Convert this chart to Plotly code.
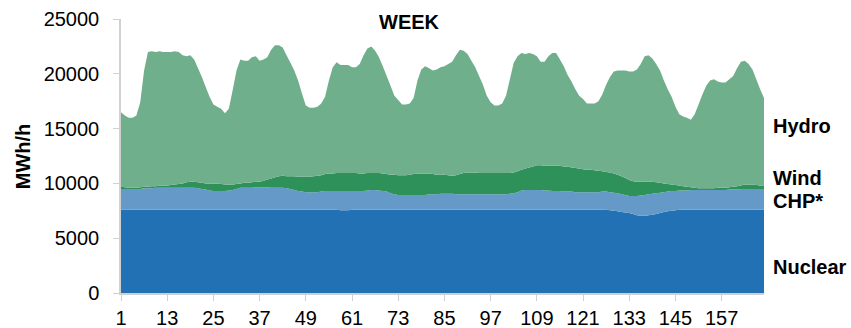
import plotly.graph_objects as go

hours = list(range(1, 169))
tick_vals = [1, 13, 25, 37, 49, 61, 73, 85, 97, 109, 121, 133, 145, 157]
y_ticks = [0, 5000, 10000, 15000, 20000, 25000]
y_tick_text = ["0", "5000", "10000", "15000", "20000", "25000"]

nuclear = [
    7600, 7600, 7600, 7600, 7600, 7600, 7600, 7600, 7600, 7600, 7600, 7600,
    7600, 7600, 7600, 7600, 7600, 7600, 7600, 7600, 7600, 7600, 7600, 7600,
    7600, 7600, 7600, 7600, 7600, 7600, 7600, 7600, 7600, 7600, 7600, 7600,
    7600, 7600, 7600, 7600, 7600, 7600, 7600, 7600, 7600, 7600, 7600, 7600,
    7600, 7600, 7600, 7600, 7600, 7600, 7600, 7600, 7600, 7550, 7550, 7550,
    7600, 7600, 7600, 7600, 7600, 7600, 7600, 7600, 7600, 7600, 7600, 7600,
    7600, 7600, 7600, 7600, 7600, 7600, 7600, 7600, 7600, 7600, 7600, 7600,
    7600, 7600, 7600, 7600, 7600, 7600, 7600, 7600, 7600, 7600, 7600, 7600,
    7600, 7600, 7600, 7600, 7600, 7600, 7600, 7600, 7600, 7600, 7600, 7600,
    7600, 7600, 7600, 7600, 7600, 7600, 7600, 7600, 7600, 7600, 7600, 7600,
    7600, 7600, 7600, 7600, 7600, 7600, 7600, 7550, 7500, 7450, 7400, 7350,
    7300, 7200, 7100, 7050, 7050, 7100, 7150, 7200, 7300, 7400, 7450, 7500,
    7550, 7600, 7600, 7600, 7600, 7600, 7600, 7600, 7600, 7600, 7600, 7600,
    7600, 7600, 7600, 7600, 7600, 7600, 7600, 7600, 7600, 7600, 7600, 7600,
]

chp = [
    1900, 1900, 1900, 1900, 1900, 1900, 1950, 1950, 1950, 2000, 2000, 2000,
    2000, 2000, 2000, 2000, 2000, 2000, 2000, 2000, 1950, 1900, 1850, 1750,
    1700, 1700, 1700, 1700, 1750, 1800, 1900, 2000, 2000, 2000, 2000, 2050,
    2050, 2050, 2050, 2000, 2000, 2000, 2000, 1950, 1900, 1800, 1700, 1650,
    1600, 1600, 1600, 1600, 1650, 1700, 1700, 1700, 1700, 1750, 1750, 1750,
    1700, 1700, 1700, 1700, 1750, 1800, 1800, 1750, 1700, 1650, 1500, 1400,
    1350, 1350, 1350, 1350, 1350, 1350, 1350, 1350, 1400, 1400, 1400, 1450,
    1450, 1450, 1450, 1400, 1400, 1400, 1400, 1400, 1400, 1400, 1400, 1400,
    1400, 1400, 1400, 1400, 1400, 1450, 1500, 1600, 1750, 1800, 1800, 1800,
    1800, 1800, 1750, 1750, 1700, 1700, 1700, 1650, 1650, 1650, 1600, 1600,
    1600, 1600, 1600, 1600, 1600, 1650, 1650, 1650, 1650, 1650, 1600, 1600,
    1550, 1650, 1750, 1850, 1900, 1900, 1900, 1900, 1850, 1800, 1800, 1800,
    1750, 1750, 1750, 1750, 1800, 1800, 1800, 1800, 1800, 1800, 1800, 1800,
    1800, 1800, 1850, 1850, 1850, 1900, 1900, 1900, 1900, 1900, 1900, 1900,
]

wind = [
    200, 150, 100, 100, 100, 150, 150, 150, 200, 150, 200, 200,
    200, 250, 300, 350, 400, 500, 550, 550, 550, 550, 550, 650,
    700, 700, 650, 600, 550, 500, 450, 400, 450, 450, 500, 500,
    500, 600, 700, 850, 950, 1050, 1100, 1100, 1150, 1250, 1300, 1350,
    1400, 1400, 1450, 1500, 1500, 1550, 1600, 1600, 1650, 1650, 1650, 1650,
    1650, 1650, 1600, 1600, 1600, 1550, 1550, 1600, 1600, 1600, 1700, 1800,
    1800, 1800, 1800, 1850, 1900, 1950, 1950, 1950, 1900, 1850, 1800, 1750,
    1750, 1700, 1650, 1750, 1850, 1950, 2000, 2000, 2000, 1950, 1950, 1950,
    1950, 1950, 1950, 1950, 1950, 1900, 1900, 1900, 1900, 1950, 2050, 2150,
    2250, 2250, 2250, 2250, 2300, 2300, 2300, 2300, 2300, 2200, 2200, 2150,
    2100, 2050, 2050, 2000, 1950, 1850, 1800, 1800, 1750, 1700, 1650, 1550,
    1450, 1350, 1300, 1250, 1200, 1150, 1100, 1000, 900, 800, 700, 600,
    550, 450, 400, 350, 250, 200, 150, 150, 150, 150, 150, 200,
    200, 200, 200, 250, 300, 300, 400, 400, 400, 350, 300, 250,
]

hydro = [
    6800, 6550, 6400, 6400, 6600, 7750, 10600, 12300, 12300, 12250, 12250, 12200,
    12200, 12150, 12150, 12050, 11700, 11500, 11550, 11150, 10400, 9650, 8800, 7900,
    7200, 7000, 6850, 6500, 6900, 8600, 10350, 11300, 11150, 11150, 11400, 11450,
    11050, 11050, 11150, 11750, 12050, 11950, 11700, 11050, 10350, 9650, 8800, 7600,
    6500, 6300, 6250, 6300, 6550, 7050, 8500, 9700, 10100, 9850, 9850, 9850,
    9650, 9650, 10000, 10800, 11350, 11550, 11150, 10550, 9800, 8950, 8100, 7200,
    6850, 6450, 6450, 6500, 6950, 8500, 9500, 9800, 9600, 9450, 9600, 9800,
    9900, 10150, 10400, 10950, 11350, 11150, 10800, 10200, 9600, 8850, 8050, 7050,
    6450, 6150, 6150, 6350, 7050, 8550, 10000, 10500, 10650, 10450, 10450, 10250,
    9950, 9450, 9500, 10000, 10300, 10300, 9700, 9150, 8350, 7850, 7200, 6650,
    6400, 6050, 6050, 6100, 6350, 7000, 7950, 8700, 9300, 9500, 9650, 9800,
    9900, 10000, 10250, 10750, 11450, 11550, 11250, 10800, 10250, 9400, 8650, 8000,
    7150, 6500, 6350, 6300, 6150, 6700, 7650, 8550, 9350, 9850, 9950, 9700,
    9600, 9600, 9850, 10100, 10750, 11300, 11300, 11000, 10500, 9650, 8800, 8050,
]

series = [
    ("Nuclear", nuclear, "#2271B5"),
    ("CHP*", chp, "#6499C8"),
    ("Wind", wind, "#2E915A"),
    ("Hydro", hydro, "#6FAF8C"),
]

FONT = "Liberation Sans, Arial, sans-serif"

fig = go.Figure()
for name, vals, color in series:
    fig.add_trace(go.Scatter(
        x=hours, y=vals, name=name, mode="none",
        stackgroup="one", fillcolor=color, line=dict(width=0),
        showlegend=False,
    ))

labels = [("Hydro", 0.610), ("Wind", 0.420), ("CHP*", 0.336), ("Nuclear", 0.096)]
annotations = []
for text, yp in labels:
    annotations.append(dict(
        text="<b>%s</b>" % text, xref="paper", yref="paper",
        x=1.0115, y=yp, xanchor="left", yanchor="middle", showarrow=False,
        font=dict(family=FONT, size=20, color="#000000"),
    ))
annotations.append(dict(
    text="<b>WEEK</b>", xref="paper", yref="paper", x=0.449, y=0.99,
    xanchor="center", yanchor="middle", showarrow=False,
    font=dict(family=FONT, size=20, color="#000000"),
))
annotations.append(dict(
    text="<b>MWh/h</b>", xref="paper", yref="paper", x=-0.152, y=0.5,
    xanchor="center", yanchor="middle", showarrow=False, textangle=-90,
    font=dict(family=FONT, size=20, color="#000000"),
))

fig.update_layout(
    width=851, height=328,
    margin=dict(l=121, r=87, t=19, b=35),
    paper_bgcolor="white", plot_bgcolor="white",
    font=dict(family=FONT, size=20, color="#000000"),
    annotations=annotations,
)
fig.update_xaxes(
    range=[1, 168], tickmode="array", tickvals=tick_vals, automargin=False,
    showgrid=False, zeroline=False, showline=True, linecolor="#D0D0D0",
    linewidth=1.5, ticks="outside", ticklen=6, tickcolor="#D0D0D0",
    tickfont=dict(family=FONT, size=20), ticklabelstandoff=0,
)
fig.update_yaxes(
    range=[0, 25000], tickmode="array", tickvals=y_ticks, ticktext=y_tick_text,
    automargin=False,
    showgrid=False, zeroline=False, showline=True, linecolor="#D0D0D0",
    linewidth=1.5, ticks="outside", ticklen=6, tickcolor="#D0D0D0",
    tickfont=dict(family=FONT, size=20), ticklabelstandoff=10,
)

fig.write_html(
    "out.html",
    config={"displayModeBar": False},
    post_script="document.body.style.margin='0';document.body.style.overflow='hidden';",
)
